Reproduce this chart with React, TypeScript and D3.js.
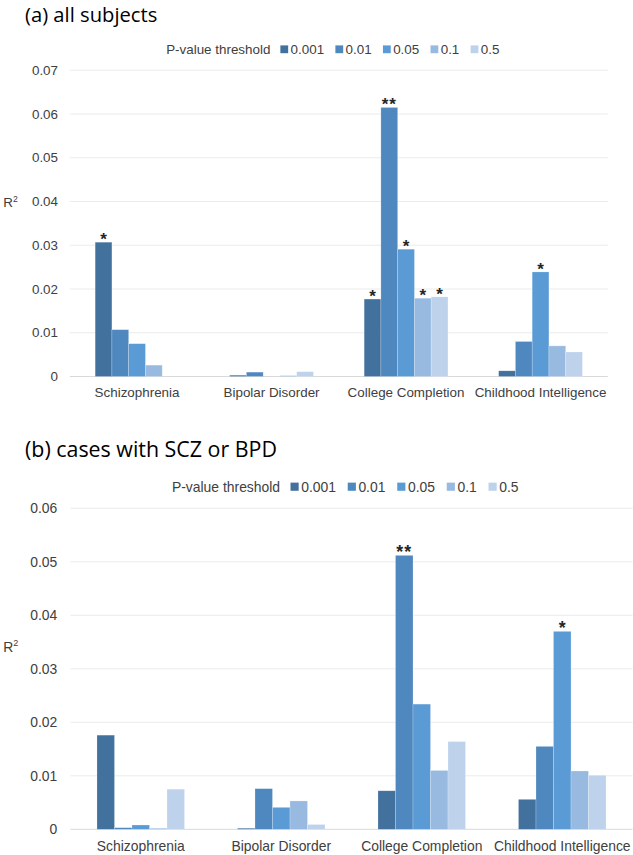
import React from "react";
import * as d3 from "d3";

const CATEGORIES = ["Schizophrenia", "Bipolar Disorder", "College Completion", "Childhood Intelligence"];
const THRESHOLDS = ["0.001", "0.01", "0.05", "0.1", "0.5"];
const COLORS = ["#41719c", "#4f88bf", "#5b9bd5", "#98bae1", "#bed2eb"];

// Panel (a): all subjects — values per category, in threshold order
const A_SCZ = [0.0307, 0.0107, 0.0075, 0.0026, 0];
const A_BPD = [0.0003, 0.001, 0, 0.0002, 0.0011];
const A_COL = [0.0177, 0.0615, 0.0291, 0.0179, 0.0182];
const A_INT = [0.0013, 0.008, 0.0239, 0.007, 0.0056];
const A_SIG = [
  ["*", "", "", "", ""],
  ["", "", "", "", ""],
  ["*", "**", "*", "*", "*"],
  ["", "", "*", "", ""],
];
const A_TICKS = [0, 0.01, 0.02, 0.03, 0.04, 0.05, 0.06, 0.07];

// Panel (b): cases with SCZ or BPD
const B_SCZ = [0.0176, 0.0003, 0.0008, 0.0002, 0.0075];
const B_BPD = [0.0002, 0.0076, 0.0041, 0.0053, 0.0009];
const B_COL = [0.0072, 0.0512, 0.0234, 0.011, 0.0164];
const B_INT = [0.0056, 0.0155, 0.037, 0.0109, 0.0101];
const B_SIG = [
  ["", "", "", "", ""],
  ["", "", "", "", ""],
  ["", "**", "", "", ""],
  ["", "", "*", "", ""],
];
const B_TICKS = [0, 0.01, 0.02, 0.03, 0.04, 0.05, 0.06];

const LEGEND_TITLE = "P-value threshold";
const FONT = "'Liberation Sans', Arial, sans-serif";
const TITLE_FONT = "'Open Sans', 'Liberation Sans', sans-serif";
const TEXT = "#404040";

let _ctx: CanvasRenderingContext2D | null = null;
function measure(text: string, size: number) {
  if (!_ctx) _ctx = document.createElement("canvas").getContext("2d");
  if (!_ctx) return text.length * size * 0.55;
  _ctx.font = `${size}px 'Liberation Sans', Arial, sans-serif`;
  return _ctx.measureText(text).width;
}

type PanelProps = {
  title: string;
  titleSize: number;
  titleY: number;
  legendY: number;
  x0: number;
  x1: number;
  yBase: number;
  yTop: number;
  yMax: number;
  ticks: number[];
  font: number;
  labelRight: number;
  r2Y: number;
  catY: number;
  rows: number[][];
  sig: string[][];
  k: number;
};

function Panel(p: PanelProps) {
  const x = d3.scaleBand<string>().domain(CATEGORIES).range([p.x0, p.x1]).paddingInner(0.377).paddingOuter(0.1885);
  const xi = d3.scaleBand<string>().domain(THRESHOLDS).range([0, x.bandwidth()]).padding(0);
  const y = d3.scaleLinear().domain([0, p.yMax]).range([p.yBase, p.yTop]);
  const fmt = (v: number) => (v === 0 ? "0" : d3.format(".2f")(v));

  // legend layout
  const sq = 7.8 * p.k;
  const gapTitle = 10 * p.k;
  const gapSq = 2.4 * p.k;
  const gapItem = 11.3 * p.k;
  const titleW = measure(LEGEND_TITLE, p.font);
  const items: { sx: number; tx: number }[] = [];
  let cx = titleW + gapTitle;
  THRESHOLDS.forEach((t, i) => {
    items.push({ sx: cx, tx: cx + sq + gapSq });
    cx += sq + gapSq + measure(t, p.font) + (i < THRESHOLDS.length - 1 ? gapItem : 0);
  });
  const totalW = cx;
  const legendX = (p.x0 + p.x1) / 2 - 6 * p.k - totalW / 2;

  return (
    <g>
      <text x={25} y={p.titleY} fontFamily={TITLE_FONT} fontSize={p.titleSize} fill="#000">
        {p.title}
      </text>
      <g transform={`translate(${legendX},${p.legendY})`} fontFamily={FONT} fontSize={p.font} fill={TEXT}>
        <text x={0} y={0} dy="0.35em">{LEGEND_TITLE}</text>
        {THRESHOLDS.map((t, i) => (
          <g key={t}>
            <rect x={items[i].sx} y={-sq / 2} width={sq} height={sq} fill={COLORS[i]} />
            <text x={items[i].tx} y={0} dy="0.35em">{t}</text>
          </g>
        ))}
      </g>
      {p.ticks.map((t) => (
        <g key={t}>
          <line
            x1={p.x0}
            x2={p.x1}
            y1={y(t)}
            y2={y(t)}
            stroke={t === 0 ? "#d9d9d9" : "#ebebeb"}
            strokeWidth={1}
          />
          <text
            x={p.labelRight}
            y={y(t)}
            dy="0.35em"
            textAnchor="end"
            fontFamily={FONT}
            fontSize={p.font}
            fill={TEXT}
          >
            {fmt(t)}
          </text>
        </g>
      ))}
      <text x={3.3} y={p.r2Y} dy="0.35em" fontFamily={FONT} fontSize={p.font} fill={TEXT}>
        R<tspan fontSize={p.font * 0.65} dy={-p.font * 0.38}>2</tspan>
      </text>
      {CATEGORIES.map((c, ci) => (
        <g key={c} transform={`translate(${x(c)},0)`}>
          {p.rows[ci].map((v, si) =>
            v > 0 ? (
              <rect
                key={si}
                x={xi(THRESHOLDS[si])}
                y={y(v)}
                width={xi.bandwidth()}
                height={y(0) - y(v)}
                fill={COLORS[si]}
                stroke="#ffffff"
                strokeOpacity={0.35}
                strokeWidth={0.6}
              />
            ) : null
          )}
          {p.sig[ci].map((s, si) =>
            s ? (
              <text
                key={"s" + si}
                x={(xi(THRESHOLDS[si]) || 0) + xi.bandwidth() / 2}
                y={y(p.rows[ci][si]) + 3}
                textAnchor="middle"
                fontFamily={FONT}
                fontSize={17 * p.k}
                fontWeight="bold"
                fill="#262626"
                letterSpacing={s.length > 1 ? 1 : 0}
              >
                {s}
              </text>
            ) : null
          )}
          <text
            x={x.bandwidth() / 2}
            y={p.catY}
            textAnchor="middle"
            fontFamily={FONT}
            fontSize={p.font}
            fill={TEXT}
          >
            {c}
          </text>
        </g>
      ))}
    </g>
  );
}

export default function App() {
  return (
    <svg
      width={633}
      height={855}
      style={{ position: "absolute", left: 0, top: 0, display: "block", background: "#fff" }}
    >
      <rect width={633} height={855} fill="#fff" />
      <Panel
        title="(a) all subjects"
        titleSize={20.2}
        titleY={21.6}
        legendY={49.3}
        x0={69.8}
        x1={607.8}
        yBase={376.5}
        yTop={70.25}
        yMax={0.07}
        ticks={A_TICKS}
        font={13.4}
        labelRight={58}
        r2Y={202.3}
        catY={397}
        rows={[A_SCZ, A_BPD, A_COL, A_INT]}
        sig={A_SIG}
        k={1}
      />
      <Panel
        title="(b) cases with SCZ or BPD"
        titleSize={21.4}
        titleY={457}
        legendY={486.7}
        x0={70.5}
        x1={632.5}
        yBase={829.3}
        yTop={508.3}
        yMax={0.06}
        ticks={B_TICKS}
        font={13.9}
        labelRight={57.3}
        r2Y={646.7}
        catY={851}
        rows={[B_SCZ, B_BPD, B_COL, B_INT]}
        sig={B_SIG}
        k={1.045}
      />
    </svg>
  );
}
